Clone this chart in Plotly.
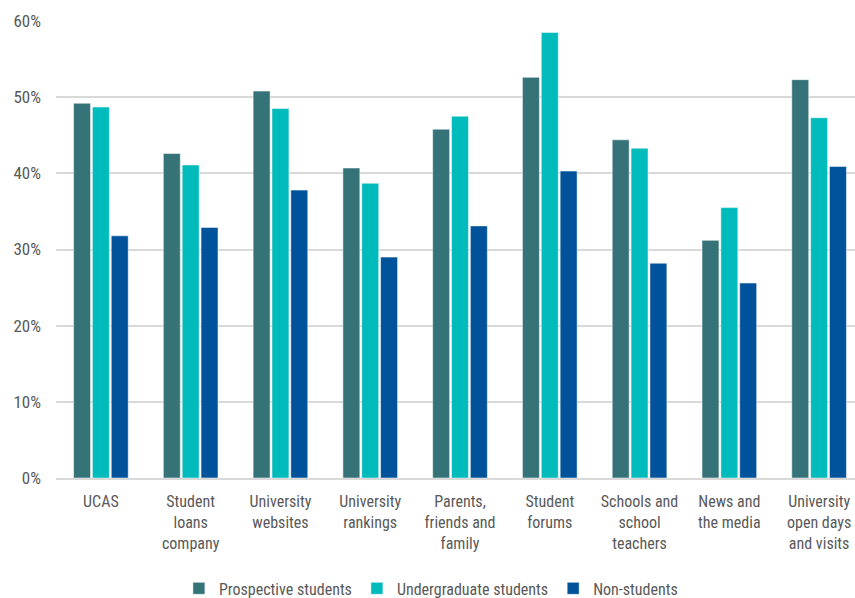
import plotly.graph_objects as go

categories = ["UCAS", "Student<br>loans<br>company", "University<br>websites", "University<br>rankings",
              "Parents,<br>friends and<br>family", "Student<br>forums", "Schools and<br>school<br>teachers",
              "News and<br>the media", "University<br>open days<br>and visits"]
prospective = [49.2, 42.6, 50.8, 40.7, 45.8, 52.6, 44.4, 31.2, 52.3]
undergraduate = [48.7, 41.1, 48.5, 38.7, 47.5, 58.5, 43.3, 35.5, 47.3]
non_students = [31.8, 32.9, 37.8, 29.0, 33.1, 40.3, 28.2, 25.6, 40.9]

series = [("Prospective students", prospective, "#367378"),
          ("Undergraduate students", undergraduate, "#00BBBB"),
          ("Non-students", non_students, "#00539B")]

font_family = "Liberation Sans Narrow, Roboto Condensed, Roboto, sans-serif"

fig = go.Figure()
for name, vals, col in series:
    fig.add_trace(go.Bar(x=categories, y=[v / 100 for v in vals], name=name,
                         marker=dict(color=col, line=dict(color="rgba(255,255,255,0.5)", width=1))))

fig.update_layout(
    width=865, height=598,
    margin=dict(l=56, r=1, t=21, b=120),
    barmode="group", bargap=0.37, bargroupgap=0.1,
    plot_bgcolor="white", paper_bgcolor="white",
    font=dict(family=font_family, size=16, color="#595959"),
    legend=dict(orientation="h", x=0.464, xanchor="center", yref="container", y=0.016, yanchor="middle",
                font=dict(size=16, color="#595959"), itemwidth=30, traceorder="normal"),
    yaxis=dict(range=[0, 0.6], dtick=0.1, tickformat=".0%", gridcolor="#d9d9d9", gridwidth=2,
               zeroline=False, showline=False, ticks="", ticklen=0, automargin=False,
               ticklabelstandoff=14,
               tickfont=dict(size=17, color="#595959")),
    xaxis=dict(showline=True, linecolor="#d9d9d9", linewidth=2, ticks="", automargin=False,
               ticklabelstandoff=8,
               tickfont=dict(size=16, color="#595959"), tickangle=0),
)
fig.write_html("out.html", config={"displayModeBar": False},
               post_script="document.body.style.margin='0';document.body.style.overflow='hidden';")
